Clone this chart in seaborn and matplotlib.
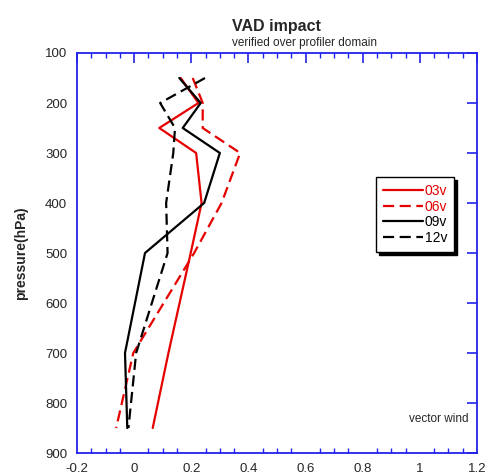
import matplotlib
matplotlib.use("Agg")
import matplotlib.pyplot as plt
import seaborn as sns
import pandas as pd
import numpy as np
from matplotlib.ticker import MultipleLocator

pressure = [150, 200, 250, 300, 400, 500, 700, 850]
v03 = [0.163, 0.225, 0.088, 0.217, 0.236, 0.198, 0.120, 0.065]
v06 = [0.205, 0.240, 0.240, 0.371, 0.306, 0.210, -0.003, -0.063]
v09 = [0.158, 0.233, 0.170, 0.300, 0.245, 0.038, -0.032, -0.024]
v12 = [0.248, 0.091, 0.143, 0.137, 0.112, 0.117, 0.007, -0.020]
series_names = ["03v", "06v", "09v", "12v"]

rows = []
for name, vals in zip(series_names, [v03, v06, v09, v12]):
    for p, v in zip(pressure, vals):
        rows.append({"series": name, "pressure": p, "value": v})
df = pd.DataFrame(rows)

sns.set_style("white")
plt.rcParams['font.family'] = ['Liberation Sans', 'DejaVu Sans']

RED = "#e60000"
BLUE = "#2222ee"
palette = {"03v": RED, "06v": RED, "09v": "black", "12v": "black"}
dashes = {"03v": "", "06v": (5, 2.5), "09v": "", "12v": (5, 2.5)}

fig = plt.figure(figsize=(4.9, 4.76), dpi=100)
ax = fig.add_axes([77/490, 23/476, 400/490, 400/476])

sns.lineplot(data=df, x="value", y="pressure", hue="series", style="series",
             palette=palette, dashes=dashes, orient="y", sort=False,
             linewidth=1.6, ax=ax, legend=True)

ax.set_xlim(-0.2, 1.2)
ax.set_ylim(900, 100)
ax.xaxis.set_minor_locator(MultipleLocator(0.05))
ax.set_xticks(np.arange(-0.2, 1.21, 0.2))
ax.set_xticklabels(["-0.2", "0", "0.2", "0.4", "0.6", "0.8", "1", "1.2"])
ax.set_yticks(range(100, 901, 100))
ax.set_yticklabels([str(v) for v in range(100, 901, 100)])
ax.tick_params(axis="both", which="major", direction="in", length=7, width=1.2,
               color=BLUE, labelsize=9.5, top=True, right=True)
ax.tick_params(axis="x", which="major", pad=7)
ax.tick_params(axis="y", which="major", pad=7)
ax.tick_params(axis="x", which="minor", direction="in", length=3.5, width=1.0,
               color=BLUE, top=True, bottom=True)
for s in ax.spines.values():
    s.set_color(BLUE)
    s.set_linewidth(1.3)

ax.set_xlabel("")
ax.set_ylabel("pressure(hPa)", fontsize=10, fontweight="bold", labelpad=12)

fig.text(276/490, 1 - 27/476, "VAD impact", ha="center", va="center",
         fontsize=11.5, fontweight="bold")
fig.text(304/490, 1 - 43/476, "verified over profiler domain", ha="center",
         va="center", fontsize=8.5)
ax.text(0.9775, 0.085, "vector wind", transform=ax.transAxes, ha="right",
        va="center", fontsize=8.5)

leg = ax.legend(loc="upper left", bbox_to_anchor=(0.748, 0.69), frameon=True,
                fancybox=False, shadow={"color": "black", "alpha": 1.0},
                edgecolor="black", markerfirst=True, handlelength=2.9,
                handletextpad=0.1, labelspacing=0.12, borderpad=0.5,
                borderaxespad=0, fontsize=10, title=None)
leg.get_frame().set_linewidth(1.0)
for txt, name in zip(leg.get_texts(), series_names):
    txt.set_color(palette[name])
for line in leg.get_lines():
    line.set_linewidth(1.6)

fig.savefig("out.png", dpi=100)
